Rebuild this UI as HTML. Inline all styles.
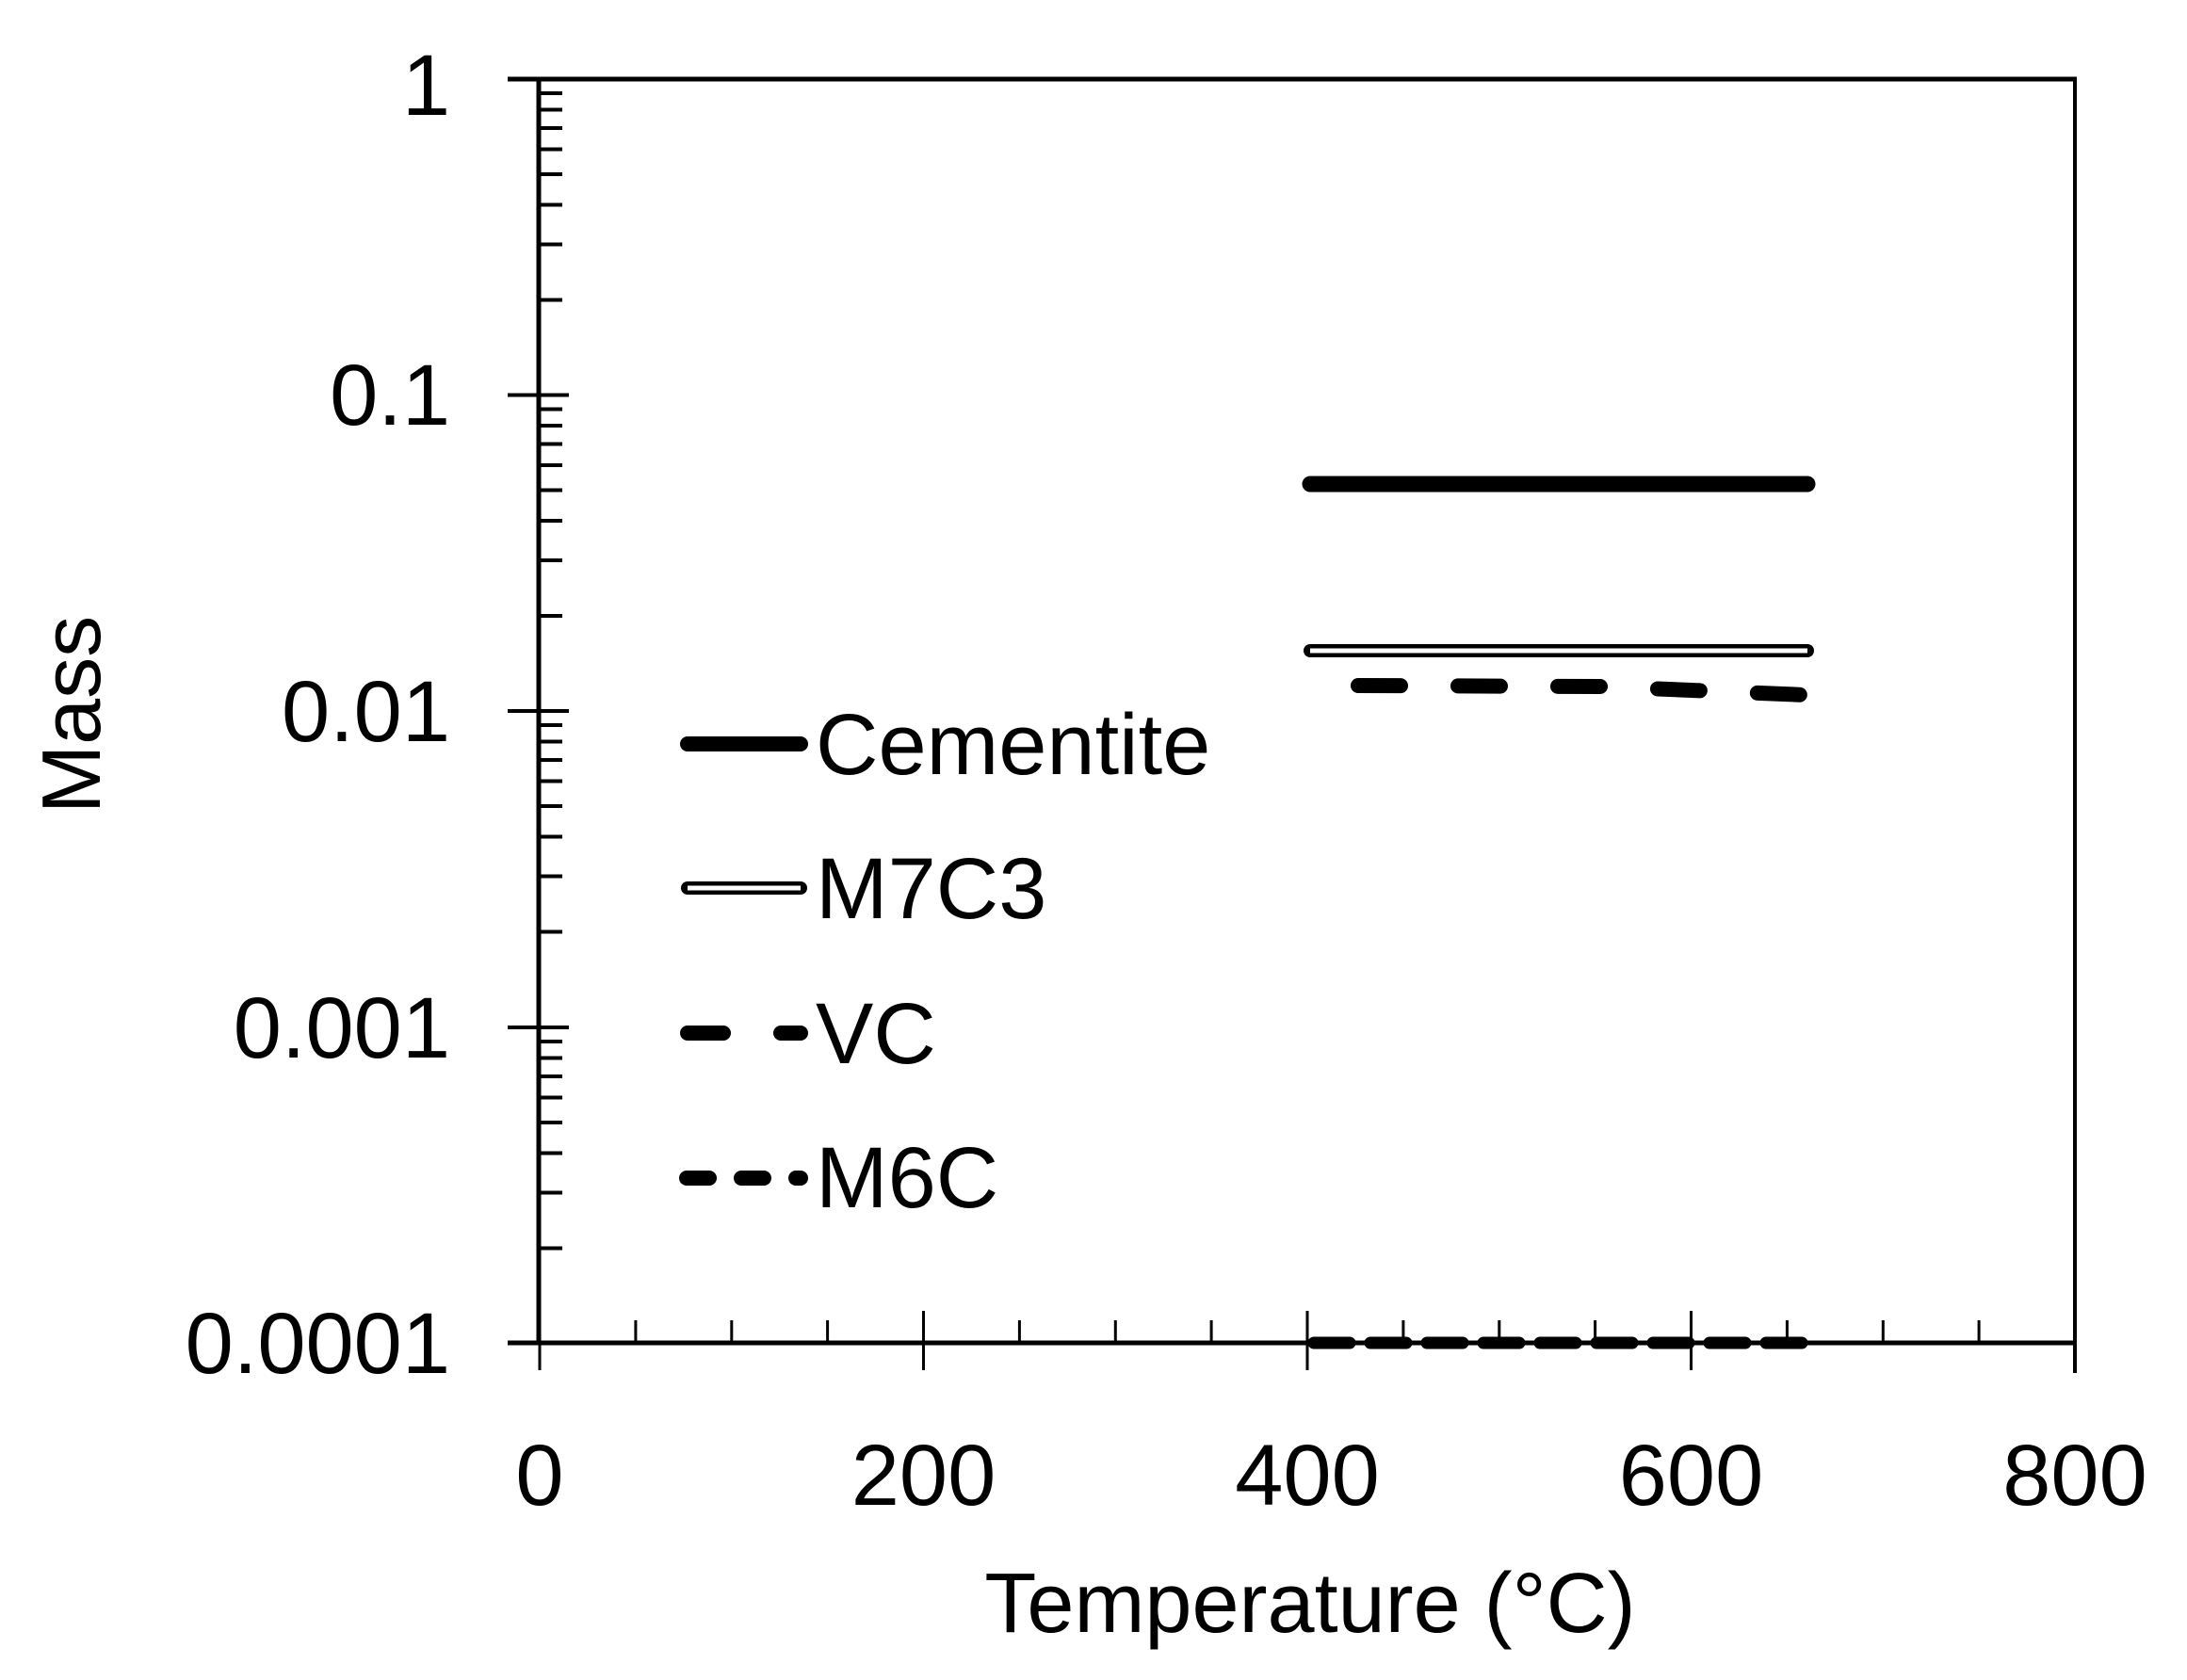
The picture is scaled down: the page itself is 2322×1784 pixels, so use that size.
<!DOCTYPE html>
<html><head><meta charset="utf-8"><style>html,body{margin:0;padding:0;background:#fff}svg{display:block}</style></head>
<body>
<svg width="2322" height="1784" viewBox="0 0 2322 1784" xmlns="http://www.w3.org/2000/svg" font-family="'Liberation Sans', sans-serif" fill="#000">
<rect width="2322" height="1784" fill="#fff"/>
<g stroke="#000" fill="none">
<line x1="539" y1="84" x2="2205" y2="84" stroke-width="5"/>
<line x1="2203" y1="82" x2="2203" y2="1458" stroke-width="4"/>
<line x1="572" y1="82" x2="572" y2="1428" stroke-width="5"/>
<line x1="539" y1="1426" x2="2205" y2="1426" stroke-width="5"/>
<g stroke-width="4">
<line x1="539" y1="419.5" x2="604" y2="419.5"/>
<line x1="539" y1="755" x2="604" y2="755"/>
<line x1="539" y1="1091" x2="604" y2="1091"/>
<line x1="539" y1="1426" x2="572" y2="1426"/>
</g>
</g>
<g stroke="#000" stroke-width="3">
<line x1="573" y1="1392" x2="573" y2="1455"/>
<line x1="980.5" y1="1392" x2="980.5" y2="1455"/>
<line x1="1388" y1="1392" x2="1388" y2="1455"/>
<line x1="1795.5" y1="1392" x2="1795.5" y2="1455"/>
<line x1="674.9" y1="1402" x2="674.9" y2="1426"/>
<line x1="776.8" y1="1402" x2="776.8" y2="1426"/>
<line x1="878.6" y1="1402" x2="878.6" y2="1426"/>
<line x1="1082.4" y1="1402" x2="1082.4" y2="1426"/>
<line x1="1184.3" y1="1402" x2="1184.3" y2="1426"/>
<line x1="1286.1" y1="1402" x2="1286.1" y2="1426"/>
<line x1="1489.9" y1="1402" x2="1489.9" y2="1426"/>
<line x1="1591.8" y1="1402" x2="1591.8" y2="1426"/>
<line x1="1693.6" y1="1402" x2="1693.6" y2="1426"/>
<line x1="1897.4" y1="1402" x2="1897.4" y2="1426"/>
<line x1="1999.3" y1="1402" x2="1999.3" y2="1426"/>
<line x1="2101.1" y1="1402" x2="2101.1" y2="1426"/>
</g>
<g stroke="#000" stroke-width="4">
<line x1="572" y1="99" x2="597" y2="99"/><line x1="572" y1="116.5" x2="597" y2="116.5"/><line x1="572" y1="136" x2="597" y2="136"/><line x1="572" y1="158.5" x2="597" y2="158.5"/><line x1="572" y1="185" x2="597" y2="185"/><line x1="572" y1="217.5" x2="597" y2="217.5"/><line x1="572" y1="259.5" x2="597" y2="259.5"/><line x1="572" y1="318.5" x2="597" y2="318.5"/>
<line x1="572" y1="434.5" x2="597" y2="434.5"/><line x1="572" y1="452" x2="597" y2="452"/><line x1="572" y1="471.5" x2="597" y2="471.5"/><line x1="572" y1="494" x2="597" y2="494"/><line x1="572" y1="520.5" x2="597" y2="520.5"/><line x1="572" y1="553" x2="597" y2="553"/><line x1="572" y1="595" x2="597" y2="595"/><line x1="572" y1="654" x2="597" y2="654"/>
<line x1="572" y1="770" x2="597" y2="770"/><line x1="572" y1="787.5" x2="597" y2="787.5"/><line x1="572" y1="807" x2="597" y2="807"/><line x1="572" y1="829.5" x2="597" y2="829.5"/><line x1="572" y1="856" x2="597" y2="856"/><line x1="572" y1="888.5" x2="597" y2="888.5"/><line x1="572" y1="930.5" x2="597" y2="930.5"/><line x1="572" y1="989.5" x2="597" y2="989.5"/>
<line x1="572" y1="1106" x2="597" y2="1106"/><line x1="572" y1="1123.5" x2="597" y2="1123.5"/><line x1="572" y1="1143" x2="597" y2="1143"/><line x1="572" y1="1165.5" x2="597" y2="1165.5"/><line x1="572" y1="1192" x2="597" y2="1192"/><line x1="572" y1="1224.5" x2="597" y2="1224.5"/><line x1="572" y1="1266.5" x2="597" y2="1266.5"/><line x1="572" y1="1325.5" x2="597" y2="1325.5"/>
</g>
<g fill="none" stroke="#000" stroke-linecap="round">
<line x1="1391" y1="514" x2="1919" y2="514" stroke-width="17"/>
<line x1="1391" y1="691" x2="1919" y2="691" stroke-width="14"/>
<line x1="1391" y1="691" x2="1919" y2="691" stroke-width="5" stroke="#fff" stroke-linecap="butt"/>
<path d="M1442 728 L1700 729 L1917 738" stroke-width="16" stroke-dasharray="45 61"/>
<line x1="1395" y1="1426" x2="1921" y2="1426" stroke-width="13" stroke-dasharray="38 22"/>
<line x1="730" y1="790" x2="850" y2="790" stroke-width="16"/>
<line x1="730" y1="943" x2="850" y2="943" stroke-width="14"/>
<line x1="730" y1="943" x2="850" y2="943" stroke-width="5" stroke="#fff" stroke-linecap="butt"/>
<line x1="730" y1="1097" x2="768" y2="1097" stroke-width="16"/>
<line x1="829" y1="1097" x2="850" y2="1097" stroke-width="16"/>
<line x1="729" y1="1251" x2="753" y2="1251" stroke-width="16"/>
<line x1="787" y1="1251" x2="811" y2="1251" stroke-width="16"/>
<line x1="845" y1="1251" x2="850" y2="1251" stroke-width="16"/>
</g>
<g font-size="92">
<text x="866" y="822">Cementite</text>
<text x="866" y="975">M7C3</text>
<text x="866" y="1129">VC</text>
<text x="866" y="1282">M6C</text>
</g>
<g font-size="92" text-anchor="end">
<text x="478" y="122">1</text>
<text x="478" y="451">0.1</text>
<text x="478" y="787">0.01</text>
<text x="478" y="1123">0.001</text>
<text x="478" y="1458">0.0001</text>
</g>
<g font-size="92" text-anchor="middle">
<text x="573" y="1598">0</text>
<text x="980.5" y="1598">200</text>
<text x="1388" y="1598">400</text>
<text x="1795.5" y="1598">600</text>
<text x="2203" y="1598">800</text>
</g>
<text x="1391" y="1733" font-size="90" text-anchor="middle">Temperature (°C)</text>
<text transform="translate(106,759) rotate(-90)" font-size="88" text-anchor="middle">Mass</text>
</svg>
</body></html>
